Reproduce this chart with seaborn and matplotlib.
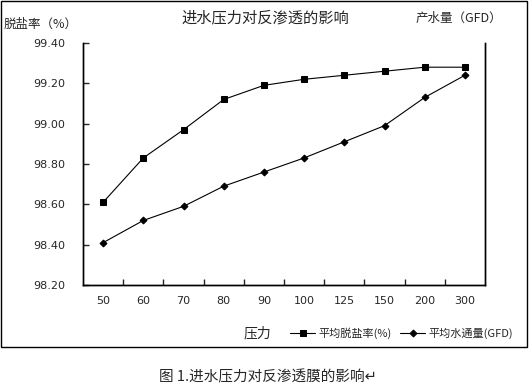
import matplotlib
matplotlib.use("Agg")
import matplotlib.pyplot as plt
from matplotlib.patches import Rectangle
from matplotlib.ticker import FixedLocator
import seaborn as sns
import pandas as pd

# data
pressure = ["50", "60", "70", "80", "90", "100", "125", "150", "200", "300"]
salt_rejection = [98.61, 98.83, 98.97, 99.12, 99.19, 99.22, 99.24, 99.26, 99.28, 99.28]
water_flux = [98.41, 98.52, 98.59, 98.69, 98.76, 98.83, 98.91, 98.99, 99.13, 99.24]
y_ticks = [98.20, 98.40, 98.60, 98.80, 99.00, 99.20, 99.40]

sns.set_style("white")
plt.rcParams["font.family"] = ["Noto Sans CJK SC", "DejaVu Sans"]

df = pd.DataFrame({"压力": pressure, "脱盐率": salt_rejection, "水通量": water_flux})

W, H = 532, 389
fig = plt.figure(figsize=(W / 100, H / 100), dpi=100)
ax = fig.add_axes([83 / W, 1 - 285 / H, (485 - 83) / W, (285 - 43) / H])

sns.lineplot(data=df, x="压力", y="脱盐率", ax=ax, color="black", lw=0.8,
             marker="s", markersize=5, markeredgecolor="black", label="平均脱盐率(%)",
             legend=False)
ax2 = ax.twinx()
sns.lineplot(data=df, x="压力", y="水通量", ax=ax2, color="black", lw=0.8,
             marker="D", markersize=3.5, markeredgecolor="black", label="平均水通量(GFD)",
             legend=False)

for a in (ax, ax2):
    a.set_ylim(98.20, 99.40)
    a.set_xlim(-0.5, len(pressure) - 0.5)
    a.set_xlabel("")
    a.set_ylabel("")
    a.spines["top"].set_visible(False)
    for s in ("left", "bottom", "right"):
        a.spines[s].set_linewidth(1)
        a.spines[s].set_color("black")

ax.set_yticks(y_ticks)
ax.set_yticklabels([f"{v:.2f}" for v in y_ticks], fontsize=8, family="DejaVu Sans")
ax.tick_params(axis="y", direction="in", length=4, width=1, pad=13, left=True)
ax.set_xticks(range(len(pressure)))
ax.set_xticklabels(pressure, fontsize=8, family="DejaVu Sans")
ax.tick_params(axis="x", which="major", length=0, pad=8)
ax.xaxis.set_minor_locator(FixedLocator([i + 0.5 for i in range(len(pressure) - 1)]))
ax.tick_params(axis="x", which="minor", direction="in", length=4, width=1, bottom=True)
ax2.set_yticks([])

# texts around the plot
fig.text(265 / W, 1 - 18 / H, "进水压力对反渗透的影响", fontsize=11, ha="center", va="center")
fig.text(4 / W, 1 - 24 / H, "脱盐率（%）", fontsize=9, ha="left", va="center")
fig.text(416 / W, 1 - 18 / H, "产水量（GFD）", fontsize=9, ha="left", va="center")
fig.text(244 / W, 1 - 333 / H, "压力", fontsize=10, ha="left", va="center")

h1, l1 = ax.get_legend_handles_labels()
h2, l2 = ax2.get_legend_handles_labels()
fig.legend(h1 + h2, l1 + l2, loc="center left", bbox_to_anchor=(286 / W, 1 - 333 / H),
           ncol=2, frameon=False, fontsize=8, handlelength=2.2, handletextpad=0.3,
           columnspacing=0.8, borderaxespad=0)

fig.patches.append(Rectangle((1 / W, 1 - 347 / H), 526 / W, 346 / H, fill=False,
                             lw=1, edgecolor="black", transform=fig.transFigure))

fig.text(268 / W, 1 - 377 / H, "图 1.进水压力对反渗透膜的影响↵", fontsize=10.5,
         ha="center", va="center")

fig.savefig("out.png", dpi=100)
